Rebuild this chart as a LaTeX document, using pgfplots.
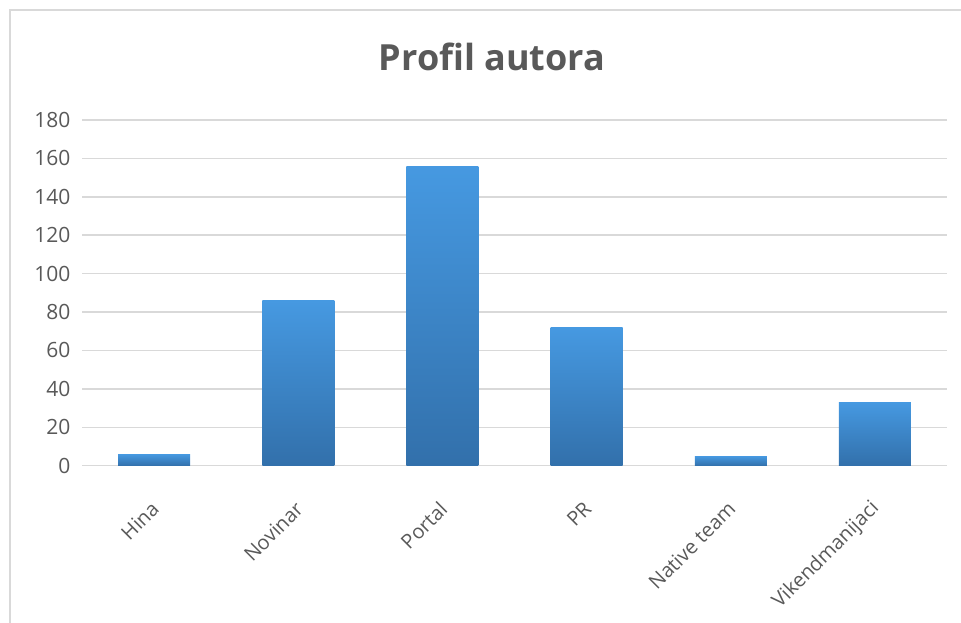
\documentclass[border=0pt]{standalone}
\usepackage{pgfplots}
\pgfplotsset{compat=1.18}
\usepackage{fontspec}
\setmainfont{Open Sans}
\definecolor{txt}{HTML}{595959}
\definecolor{grd}{HTML}{D9D9D9}
\definecolor{bartop}{HTML}{4699E1}
\definecolor{barbot}{HTML}{3270AB}
\begin{document}
\begin{tikzpicture}[x=1pt,y=1pt]
\useasboundingbox (0,0) rectangle (961,623);
\draw[grd, line width=1.5pt] (10,0) -- (10,613) -- (961,613);
\node[txt, font=\bfseries\fontsize{36}{40}\selectfont] at (492,566) {Profil autora};
\begin{axis}[
  at={(82pt,157.3pt)}, anchor=south west,
  scale only axis, width=865pt, height=345.7pt,
  xmin=-0.5, xmax=5.5, ymin=0, ymax=180,
  ytick={0,20,...,180},
  xtick={0,...,5},
  xticklabels={Hina,Novinar,Portal,PR,Native team,Vikendmanijaci},
  axis line style={draw=none},
  major tick length=0pt,
  ymajorgrids, grid style={grd, line width=1.5pt},
  /pgf/number format/assume math mode=true,
  ticklabel style={txt},
  yticklabel style={font=\fontsize{21}{23}\selectfont, xshift=-8pt},
  xticklabel style={font=\fontsize{20}{22}\selectfont, rotate=45, anchor=east, xshift=-24pt, yshift=-29pt},
  mybar/.style={ybar, bar width=72pt, bar shift=0pt, draw=none, mark=none, top color=bartop, bottom color=barbot},
  clip=false,
]
\addplot[mybar] coordinates {(0,6)};
\addplot[mybar] coordinates {(1,86)};
\addplot[mybar] coordinates {(2,156)};
\addplot[mybar] coordinates {(3,72)};
\addplot[mybar] coordinates {(4,5)};
\addplot[mybar] coordinates {(5,33)};
\end{axis}
\end{tikzpicture}
\end{document}
